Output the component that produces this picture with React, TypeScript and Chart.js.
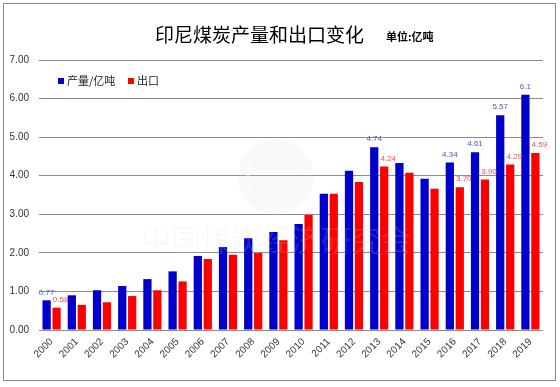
import React, { useEffect, useRef } from "react";
import { Chart, registerables } from "chart.js";

Chart.register(...registerables);

const years = ["2000","2001","2002","2003","2004","2005","2006","2007","2008","2009","2010","2011","2012","2013","2014","2015","2016","2017","2018","2019"];
const production = [0.77,0.90,1.03,1.14,1.32,1.52,1.92,2.15,2.38,2.54,2.75,3.53,4.13,4.74,4.33,3.92,4.34,4.61,5.57,6.1];
const exportsData = [0.58,0.65,0.72,0.88,1.03,1.26,1.84,1.95,2.00,2.33,2.98,3.53,3.84,4.24,4.08,3.66,3.70,3.90,4.29,4.59];
const productionLabels: (string | null)[] = ["0.77",null,null,null,null,null,null,null,null,null,null,null,null,"4.74",null,null,"4.34","4.61","5.57","6.1"];
const exportLabels: (string | null)[] = ["0.58",null,null,null,null,null,null,null,null,null,null,null,null,"4.24",null,null,"3.70","3.90","4.29","4.59"];
const seriesNames = ["产量/亿吨", "出口"];
const titleText = "印尼煤炭产量和出口变化";
const unitText = "单位:亿吨";
const watermarkText = "中国煤炭经济研究会";

const BLUE = "#0000CC";
const RED = "#FF0000";
const CJK = "'Noto Sans CJK SC', sans-serif";
const LAT = "'Liberation Sans', Arial, sans-serif";

const decor = {
  id: "decor",
  beforeDraw(chart: any) {
    const ctx = chart.ctx;
    ctx.save();
    ctx.fillStyle = "#ffffff";
    ctx.fillRect(0, 0, chart.width, chart.height);
    ctx.strokeStyle = "#8a8a8a";
    ctx.lineWidth = 1;
    ctx.strokeRect(3.5, 3.5, 552, 377);
    ctx.restore();
  },
  afterDatasetsDraw(chart: any) {
    const ctx = chart.ctx;
    const area = chart.chartArea;
    ctx.save();
    // watermark
    const cx = area.left + (area.right - area.left) * 0.47;
    ctx.fillStyle = "rgba(215,215,215,0.16)";
    ctx.beginPath();
    ctx.arc(cx, 177, 38, 0, Math.PI * 2);
    ctx.fill();
    ctx.strokeStyle = "rgba(255,255,255,0.5)";
    ctx.lineWidth = 3;
    ctx.beginPath();
    ctx.arc(cx, 177, 28, 0.3, Math.PI * 2 - 0.3);
    ctx.stroke();
    ctx.font = "30px " + CJK;
    ctx.textAlign = "center";
    ctx.textBaseline = "middle";
    ctx.fillStyle = "rgba(215,215,215,0.16)";
    ctx.fillText(watermarkText, cx, 240);

    // data labels
    ctx.font = "8px " + LAT;
    ctx.textBaseline = "bottom";
    const m0 = chart.getDatasetMeta(0);
    const m1 = chart.getDatasetMeta(1);
    productionLabels.forEach((t, i) => {
      if (!t) return;
      const el = m0.data[i];
      ctx.fillStyle = "#5050dd";
      ctx.fillText(t, el.x, el.y - 4);
    });
    exportLabels.forEach((t, i) => {
      if (!t) return;
      const el = m1.data[i];
      ctx.fillStyle = "#ff4a4a";
      ctx.fillText(t, el.x + 4, el.y - 4);
    });
    ctx.restore();
  },
  afterDraw(chart: any) {
    const ctx = chart.ctx;
    ctx.save();
    ctx.fillStyle = "#000";
    ctx.textBaseline = "middle";
    ctx.textAlign = "left";
    ctx.font = "19px " + CJK;
    ctx.fillText(titleText, 155, 35);
    ctx.font = "bold 11px " + CJK;
    ctx.fillText(unitText, 386, 37);
    // legend
    ctx.font = "11px " + CJK;
    ctx.fillStyle = BLUE;
    ctx.fillRect(58, 78, 6, 6);
    ctx.fillStyle = "#222";
    ctx.fillText(seriesNames[0], 67, 81);
    ctx.fillStyle = RED;
    ctx.fillRect(128, 78, 6, 6);
    ctx.fillStyle = "#222";
    ctx.fillText(seriesNames[1], 137, 81);
    ctx.restore();
  },
};

export default function App() {
  const ref = useRef<HTMLCanvasElement>(null);
  useEffect(() => {
    document.body.style.margin = "0";
    const chart = new Chart(ref.current!, {
      type: "bar",
      data: {
        labels: years,
        datasets: [
          { label: seriesNames[0], data: production, backgroundColor: BLUE, barPercentage: 0.83, categoryPercentage: 0.79 },
          { label: seriesNames[1], data: exportsData, backgroundColor: RED, barPercentage: 0.83, categoryPercentage: 0.79 },
        ],
      },
      options: {
        responsive: false,
        animation: false,
        devicePixelRatio: 1,
        layout: { padding: { top: 60, right: 17, left: 0, bottom: 0 } },
        plugins: { legend: { display: false }, tooltip: { enabled: false }, title: { display: false } },
        scales: {
          x: {
            grid: { display: false, drawTicks: false },
            border: { display: false },
            ticks: { minRotation: 45, maxRotation: 45, padding: 6, color: "#333", font: { family: LAT, size: 10 } },
            afterFit: (s: any) => { s.height = 57; },
          },
          y: {
            min: 0,
            max: 7,
            grid: { color: "#8c8c8c", lineWidth: 1, drawTicks: false },
            border: { display: false },
            ticks: { stepSize: 1, padding: 10, color: "#333", font: { family: LAT, size: 10 }, callback: (v: any) => Number(v).toFixed(2) },
            afterFit: (s: any) => { s.width = 39; },
          },
        },
      },
      plugins: [decor],
    });
    return () => chart.destroy();
  }, []);
  return (
    <div style={{ position: "absolute", left: 0, top: 0, width: 560, height: 387 }}>
      <canvas ref={ref} width={560} height={387} style={{ width: 560, height: 387 }} />
    </div>
  );
}
